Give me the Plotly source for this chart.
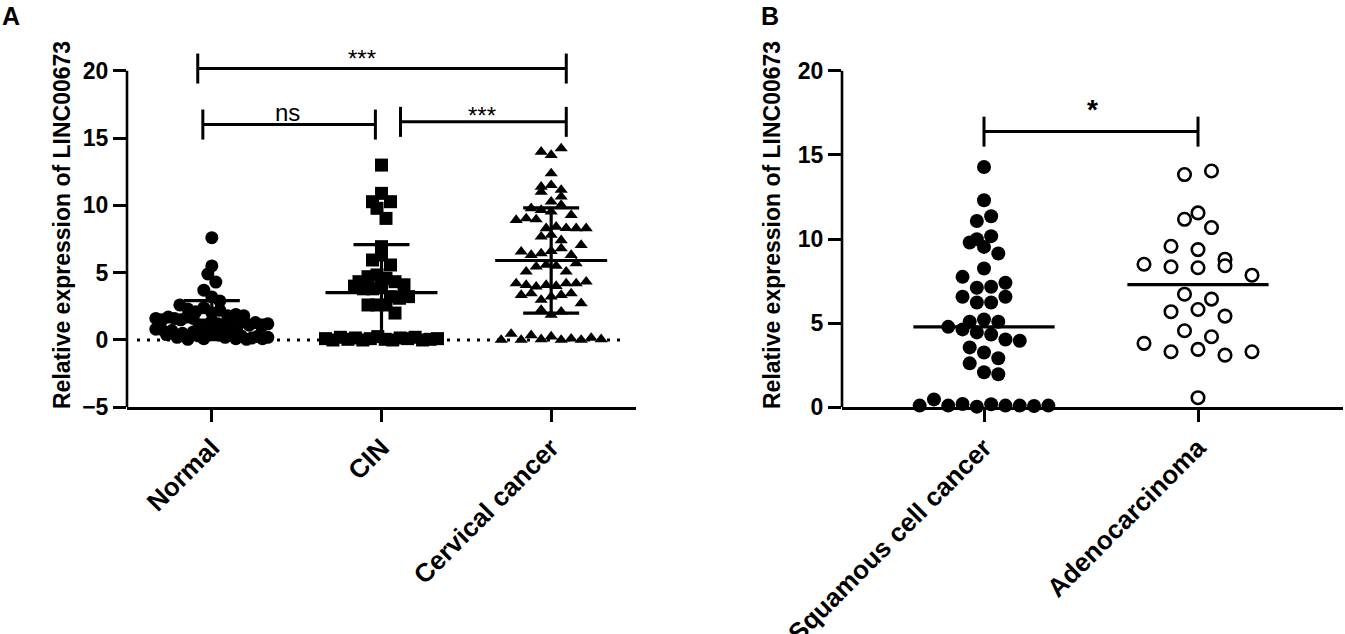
import numpy as np
import plotly.graph_objects as go

# ---- data ----
groups_a = ["Normal", "CIN", "Cervical cancer"]
normal = [7.6, 5.5, 4.9, 4.3, 3.7, 3.2, 2.9, 2.6,
          2.3, 2.1, 2.4, 2.0, 2.2,
          1.6, 1.8, 1.5, 1.9, 1.7, 1.6, 1.8, 1.5, 1.7, 1.6,
          1.1, 0.9, 1.4, 0.8, 1.2, 1.0, 1.3, 0.9, 1.4, 1.1, 0.8, 1.3, 1.0, 1.2,
          0.4, 0.7, 0.2, 0.5, 0.05, 0.6, 0.3, 0.1, 0.7, 0.4, 0.6, 0.2, 0.5, 0.1, 0.3, 0.05,
          0.15, 0.25, 0.1, 0.2]
cin = [12.99,
       10.27, 10.89, 10.27,
       9.78,
       9.03,
       6.93,
       5.94, 6.31, 5.57,
       4.33, 4.7, 4.83, 4.58, 4.33,
       4.0, 3.8, 4.1, 3.8, 4.0,
       3.22, 3.1, 3.22,
       2.6, 2.6, 2.6,
       2.0,
       0.1, 0.0, 0.2, 0.05, 0.15, 0.0, 0.1, 0.25, 0.05, 0.0, 0.15, 0.1, 0.2, 0.0, 0.05, 0.1]
cervical = [13.98, 13.73, 14.23,
            12.37,
            11.38, 11.5, 11.0, 11.14,
            10.27, 10.64,
            9.78, 9.65, 9.53, 10.02, 9.28,
            8.91, 9.03, 8.95,
            8.29, 8.41, 8.3, 8.29, 8.29,
            7.67, 7.8, 7.4,
            6.56, 6.31, 6.43, 6.6, 6.8, 6.31, 7.05,
            5.07, 5.44, 5.57, 5.5, 5.07, 5.69,
            4.2, 4.08, 3.96, 4.08, 4.0, 4.2, 4.2, 4.33,
            3.34, 3.46, 2.97, 3.22, 3.34, 3.46,
            2.72,
            2.23, 1.86, 2.1,
            0.0, 0.45, 0.0, 0.35, 0.05, 0.25, 0.0, 0.1, 0.0, 0.15, 0.05]

groups_b = ["Squamous cell cancer", "Adenocarcinoma"]
squamous = [14.28,
            12.3,
            11.07, 11.35,
            9.79, 9.53, 9.99, 10.17,
            9.14,
            8.25,
            7.75, 7.1, 7.16, 7.4,
            6.57, 6.23, 6.23, 6.57,
            5.08, 5.22, 5.08, 4.78, 4.63,
            4.45, 4.33,
            4.03, 3.95,
            3.56,
            3.26,
            2.61, 2.91,
            2.08, 1.96,
            0.1, 0.47, 0.1, 0.2, 0.04, 0.18, 0.1, 0.1, 0.08, 0.1]
adeno = [13.83, 14.04,
         11.17, 11.55,
         10.68,
         9.57, 9.37,
         8.5, 8.8, 8.35, 8.29, 8.41,
         7.85,
         6.72, 6.43,
         5.68, 5.81, 5.42,
         4.55,
         3.8, 4.19,
         3.3, 3.44, 3.1, 3.3,
         0.57]

# comparisons: (x0, x1, y, label)
brackets_a = [(-0.083, 2.089, 20.16, "***"),
              (-0.053, 0.964, 16.0, "ns"),
              (1.112, 2.089, 16.2, "***")]
brackets_b = [(0.0, 1.0, 16.38, "*")]

# ---- geometry (page pixels) ----
FW, FH = 1345, 634
A_X0, A_X1 = 127, 636
A_YTOP, A_YBOT = 70.7, 407.3      # value 20 and -5
B_X0, B_X1 = 842, 1343
B_YTOP, B_YBOT = 70.7, 407.3      # value 20 and 0

a_ppu = (A_YBOT - A_YTOP) / 25.0
b_ppu = (B_YBOT - B_YTOP) / 20.0
a_ppc = (A_X1 - A_X0) / 3.0
b_ppc = 214.0
b_start = -(984 - B_X0) / b_ppc
b_end = b_start + (B_X1 - B_X0) / b_ppc

FONT = "Arial, Liberation Sans, sans-serif"


def fx(px):
    return px / FW


def fy(py):
    return 1 - py / FH


def swarm(values, row_h, step, half_w):
    # rows built from the bottom up, points spread side by side in each row
    v = np.asarray(values, float)
    order = np.argsort(v, kind="stable")
    rows, cur, base = [], [], None
    for i in order:
        if base is None or v[i] - base > row_h:
            if cur:
                rows.append(cur)
            cur, base = [i], v[i]
        else:
            cur.append(i)
    rows.append(cur)
    off = np.zeros(len(v))
    for r in rows:
        r = sorted(r)
        n = len(r)
        if n > 1:
            s = min(step, 2 * half_w / (n - 1))
            off[r] = (np.arange(n) - (n - 1) / 2) * s
    return off


fig = go.Figure()

# panel A points
styles_a = [dict(symbol="circle", size=13, step=8, rowh=11),
            dict(symbol="square", size=13, step=9, rowh=13),
            dict(symbol="triangle-up", size=11.5, step=10, rowh=10)]
for k, (vals, st) in enumerate(zip([normal, cin, cervical], styles_a)):
    off = swarm(vals, st["rowh"] / a_ppu, st["step"] / a_ppc, 56 / a_ppc)
    fig.add_trace(go.Scatter(
        x=k + off, y=vals, mode="markers", cliponaxis=False,
        marker=dict(symbol=st["symbol"], size=st["size"], color="black", line=dict(width=0)),
        xaxis="x", yaxis="y", hoverinfo="y"))

# mean +/- SD for panel A
for k, vals in enumerate([normal, cin, cervical]):
    m = np.mean(vals)
    sd = np.std(vals, ddof=1)
    xs = [k - 0.33, k + 0.33, None, k, k, None,
          k - 0.165, k + 0.165, None, k - 0.165, k + 0.165]
    ys = [m, m, None, m - sd, m + sd, None,
          m + sd, m + sd, None, m - sd, m - sd]
    fig.add_trace(go.Scatter(x=xs, y=ys, mode="lines", line=dict(color="black", width=3.2),
                             xaxis="x", yaxis="y", hoverinfo="skip"))

# panel B points
off_s = swarm(squamous, 14.3 / b_ppu, 14.3 / b_ppc, 66 / b_ppc)
fig.add_trace(go.Scatter(
    x=0 + off_s, y=squamous, mode="markers", cliponaxis=False,
    marker=dict(symbol="circle", size=14, color="black", line=dict(width=0)),
    xaxis="x2", yaxis="y2", hoverinfo="y"))
off_ad = swarm(adeno, 14.3 / b_ppu, 27 / b_ppc, 60 / b_ppc)
fig.add_trace(go.Scatter(
    x=1 + off_ad, y=adeno, mode="markers", cliponaxis=False,
    marker=dict(symbol="circle", size=12.5, color="white", line=dict(width=2.6, color="black")),
    xaxis="x2", yaxis="y2", hoverinfo="y"))

# medians for panel B
for k, vals in enumerate([squamous, adeno]):
    md = np.median(vals)
    fig.add_trace(go.Scatter(x=[k - 0.33, k + 0.33], y=[md, md], mode="lines",
                             line=dict(color="black", width=3.2),
                             xaxis="x2", yaxis="y2", hoverinfo="skip"))

shapes = []
# y axis lines (stop at 20)
shapes.append(dict(type="line", xref="paper", yref="y", x0=fx(A_X0), x1=fx(A_X0), y0=-5, y1=20,
                   line=dict(color="black", width=2.6)))
shapes.append(dict(type="line", xref="paper", yref="y2", x0=fx(B_X0), x1=fx(B_X0), y0=0, y1=20,
                   line=dict(color="black", width=2.6)))
# dotted zero line in A
shapes.append(dict(type="line", xref="x", yref="y", x0=(137 - A_X0) / a_ppc - 0.5,
                   x1=(625 - A_X0) / a_ppc - 0.5, y0=0, y1=0,
                   line=dict(color="black", width=3, dash="3px,7px")))


def add_brackets(items, xr, yr, cap):
    for x0, x1, y, lab in items:
        line = dict(color="black", width=3)
        shapes.append(dict(type="line", xref=xr, yref=yr, x0=x0, x1=x1, y0=y, y1=y, line=line))
        shapes.append(dict(type="line", xref=xr, yref=yr, x0=x0, x1=x0, y0=y - cap, y1=y + cap, line=line))
        shapes.append(dict(type="line", xref=xr, yref=yr, x0=x1, x1=x1, y0=y - cap, y1=y + cap, line=line))


add_brackets(brackets_a, "x", "y", 15 / a_ppu)
add_brackets(brackets_b, "x2", "y2", 15 / b_ppu)

annotations = []
# significance labels
for x, y, xr, yr, txt, size in [(0.887, 20.9, "x", "y", "***", 24),
                                (0.443, 16.9, "x", "y", "ns", 24),
                                (1.59, 16.7, "x", "y", "***", 24),
                                (0.505, 17.7, "x2", "y2", "<b>*</b>", 28)]:
    annotations.append(dict(x=x, y=y, xref=xr, yref=yr, text=txt, showarrow=False,
                            xanchor="center", yanchor="middle",
                            font=dict(size=size, family=FONT, color="black")))

# panel letters and y titles
for txt, px, py in [("A", 11, 16), ("B", 770, 16)]:
    annotations.append(dict(x=fx(px), y=fy(py), xref="paper", yref="paper", text="<b>%s</b>" % txt,
                            showarrow=False, xanchor="center", yanchor="middle",
                            font=dict(size=25, family=FONT, color="black")))
for px in [62, 772]:
    annotations.append(dict(x=fx(px), y=fy(225), xref="paper", yref="paper",
                            text="<b>Relative expression of LINC00673</b>", textangle=-90,
                            showarrow=False, xanchor="center", yanchor="middle",
                            font=dict(size=23, family=FONT, color="black")))

tickfont_x = dict(size=26, family=FONT, color="black", weight="bold")
tickfont_y = dict(size=23, family=FONT, color="black", weight="bold")
common_x = dict(showline=True, linecolor="black", linewidth=2.6, ticks="outside", ticklen=12,
                tickwidth=2.6, tickcolor="black", tickangle=-45, showgrid=False, zeroline=False,
                tickfont=tickfont_x, fixedrange=True, automargin=False)
common_y = dict(showline=False, ticks="outside", ticklen=13, tickwidth=2.6, tickcolor="black",
                showgrid=False, zeroline=False, tickfont=tickfont_y, fixedrange=True,
                automargin=False)

fig.update_layout(
    width=FW, height=FH, margin=dict(l=0, r=0, t=0, b=0, autoexpand=False),
    paper_bgcolor="white", plot_bgcolor="white", showlegend=False,
    font=dict(family=FONT, color="black"),
    xaxis=dict(domain=[fx(A_X0), fx(A_X1)], range=[-0.5, 2.5], tickvals=[0, 1, 2],
               ticktext=groups_a, anchor="y", **common_x),
    yaxis=dict(domain=[fy(A_YBOT), 1], range=[-5, 20 + A_YTOP / a_ppu],
               tickvals=[-5, 0, 5, 10, 15, 20], anchor="x", **common_y),
    xaxis2=dict(domain=[fx(B_X0), fx(B_X1)], range=[b_start, b_end], tickvals=[0, 1],
                ticktext=groups_b, anchor="y2", **common_x),
    yaxis2=dict(domain=[fy(B_YBOT), 1], range=[0, 20 + B_YTOP / b_ppu],
                tickvals=[0, 5, 10, 15, 20], anchor="x2", **common_y),
    shapes=shapes, annotations=annotations,
)

# the page's default body margin would push the figure 8px in
fig.write_html("out.html", config={"displayModeBar": False},
               post_script="document.body.style.margin='0px';")
